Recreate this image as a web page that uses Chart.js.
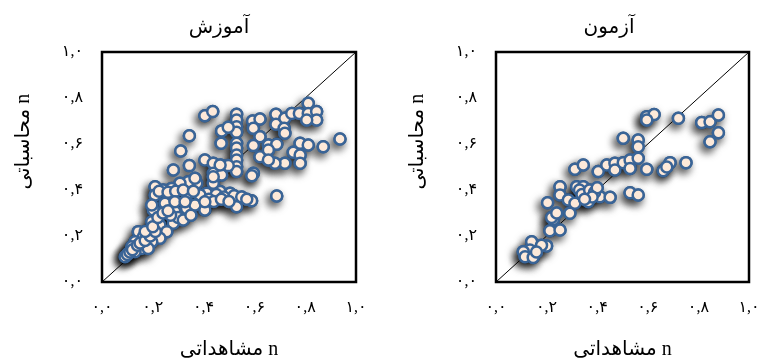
<!DOCTYPE html>
<html>
<head>
<meta charset="utf-8">
<script src="https://cdn.jsdelivr.net/npm/chart.js@4/dist/chart.umd.min.js"></script>
<style>
  html, body { margin: 0; padding: 0; background: #ffffff; overflow: hidden; width: 759px; height: 358px; }
  canvas { position: absolute; top: 0; }
  #cTrain { left: 0px; }
  #cTest { left: 380px; }
</style>
</head>
<body>
<canvas id="cTrain" dir="rtl" width="438" height="358"></canvas>
<canvas id="cTest" dir="rtl" width="458" height="358"></canvas>
<script>
// ---- labels ----
const tickLabels = ['۰,۰', '۰,۲', '۰,۴', '۰,۶', '۰,۸', '۱,۰'];
const trainTitle = 'آموزش';
const testTitle = 'آزمون';
const xAxisTitle = 'n مشاهداتی';
const yAxisTitle = 'n محاسباتی';
const diagonalX = [0, 1];
const diagonalY = [0, 1];

// ---- training data (observed n, computed n) ----
const trainObs = [
  0.405, 0.436, 0.530, 0.530, 0.530, 0.530, 0.530, 0.530, 0.530, 0.530,
  0.530, 0.530, 0.471, 0.497, 0.469, 0.344, 0.310, 0.593, 0.622, 0.596,
  0.622, 0.596, 0.622, 0.655, 0.688, 0.655, 0.685, 0.685, 0.720, 0.717,
  0.720, 0.747, 0.777, 0.812, 0.812, 0.845, 0.845, 0.806, 0.780, 0.812,
  0.871, 0.937, 0.753, 0.780, 0.780, 0.720, 0.681, 0.655, 0.405, 0.438,
  0.471, 0.497, 0.344, 0.281, 0.596, 0.438, 0.471, 0.590, 0.688, 0.589,
  0.530, 0.504, 0.465, 0.438, 0.412, 0.386, 0.373, 0.340, 0.307, 0.274,
  0.241, 0.209, 0.209, 0.340, 0.346, 0.405, 0.287, 0.202, 0.196, 0.255,
  0.438, 0.366, 0.248, 0.333, 0.366, 0.196, 0.228, 0.281, 0.255, 0.228,
  0.196, 0.143, 0.163, 0.130, 0.156, 0.117, 0.104, 0.091, 0.130, 0.182,
  0.225, 0.260, 0.290, 0.320, 0.360, 0.450, 0.480, 0.520, 0.550, 0.570,
  0.420, 0.440, 0.470, 0.500, 0.300, 0.320, 0.350, 0.270, 0.100, 0.110,
  0.120, 0.140, 0.150, 0.170, 0.190, 0.210, 0.170, 0.200, 0.220, 0.240,
  0.260, 0.287, 0.327, 0.405, 0.465, 0.438
];
const trainCalc = [
  0.723, 0.741, 0.729, 0.704, 0.675, 0.651, 0.603, 0.583, 0.552, 0.530,
  0.501, 0.480, 0.657, 0.673, 0.603, 0.636, 0.570, 0.700, 0.709, 0.668,
  0.632, 0.593, 0.545, 0.596, 0.599, 0.574, 0.729, 0.686, 0.712, 0.668,
  0.647, 0.733, 0.733, 0.777, 0.733, 0.741, 0.704, 0.704, 0.603, 0.596,
  0.588, 0.622, 0.564, 0.552, 0.516, 0.516, 0.516, 0.530, 0.530, 0.516,
  0.506, 0.506, 0.506, 0.487, 0.473, 0.473, 0.465, 0.462, 0.374, 0.353,
  0.327, 0.386, 0.393, 0.386, 0.386, 0.378, 0.429, 0.436, 0.429, 0.407,
  0.400, 0.414, 0.378, 0.386, 0.335, 0.313, 0.306, 0.313, 0.335, 0.342,
  0.429, 0.451, 0.342, 0.320, 0.335, 0.262, 0.248, 0.255, 0.219, 0.190,
  0.175, 0.219, 0.197, 0.175, 0.146, 0.153, 0.125, 0.110, 0.132, 0.146,
  0.395, 0.390, 0.395, 0.400, 0.395, 0.380, 0.370, 0.375, 0.370, 0.360,
  0.360, 0.350, 0.360, 0.350, 0.280, 0.270, 0.290, 0.290, 0.120, 0.130,
  0.140, 0.160, 0.170, 0.180, 0.200, 0.220, 0.220, 0.240, 0.280, 0.300,
  0.310, 0.349, 0.349, 0.349, 0.509, 0.458
];

// ---- test data (observed n, computed n) ----
const testObs = [
  0.596, 0.625, 0.596, 0.721, 0.813, 0.846, 0.879, 0.879, 0.846, 0.503,
  0.562, 0.562, 0.312, 0.345, 0.404, 0.438, 0.470, 0.470, 0.503, 0.530,
  0.530, 0.562, 0.596, 0.661, 0.688, 0.675, 0.751, 0.253, 0.253, 0.204,
  0.286, 0.312, 0.319, 0.345, 0.358, 0.365, 0.411, 0.451, 0.530, 0.562,
  0.292, 0.227, 0.213, 0.253, 0.200, 0.167, 0.141, 0.134, 0.108, 0.115,
  0.147, 0.330, 0.340, 0.370, 0.390, 0.400, 0.380, 0.350, 0.180, 0.160,
  0.220, 0.240
];
const testCalc = [
  0.719, 0.728, 0.704, 0.712, 0.693, 0.697, 0.726, 0.649, 0.610, 0.625,
  0.617, 0.588, 0.490, 0.509, 0.480, 0.509, 0.516, 0.487, 0.519, 0.530,
  0.494, 0.538, 0.490, 0.484, 0.519, 0.500, 0.519, 0.414, 0.378, 0.345,
  0.357, 0.342, 0.414, 0.414, 0.386, 0.349, 0.371, 0.368, 0.388, 0.378,
  0.299, 0.272, 0.223, 0.226, 0.157, 0.154, 0.175, 0.139, 0.132, 0.110,
  0.107, 0.400, 0.380, 0.400, 0.390, 0.410, 0.370, 0.360, 0.160, 0.130,
  0.280, 0.300
];

const FONT_FAMILY = "'Liberation Serif', 'DejaVu Sans', serif";
const MARKER_FILL = '#fde9d9';
const MARKER_EDGE = '#3a6496';

function toPoints(xs, ys) { return xs.map((x, i) => ({ x: x, y: ys[i] })); }

const rtlPlugin = {
  id: 'rtlText',
  beforeDraw(chart) { chart.ctx.direction = 'rtl'; }
};

// dataset 1 is a shadow-casting copy of the markers, drawn beneath the clean markers
const shadowPlugin = {
  id: 'markerShadow',
  beforeDatasetDraw(chart, args) {
    if (args.index !== 1) return;
    const ctx = chart.ctx;
    ctx.save();
    ctx.shadowColor = 'rgba(0,0,0,0.75)';
    ctx.shadowBlur = 8;
    ctx.shadowOffsetX = -3;
    ctx.shadowOffsetY = 4;
  },
  afterDatasetDraw(chart, args) {
    if (args.index !== 1) return;
    chart.ctx.restore();
  }
};

const framePlugin = {
  id: 'frame',
  afterDraw(chart) {
    const { ctx, chartArea: a } = chart;
    ctx.save();
    ctx.strokeStyle = '#000000';
    ctx.lineWidth = 2.5;
    ctx.strokeRect(a.left, a.top, a.right - a.left, a.bottom - a.top);
    ctx.restore();
  }
};

// rotated y-axis title, placed like the reference (slightly above the middle of the plot)
const yTitlePlugin = {
  id: 'yTitle',
  afterDraw(chart, args, opts) {
    const { ctx, chartArea: a } = chart;
    ctx.save();
    ctx.direction = 'rtl';
    ctx.font = opts.size + 'px ' + FONT_FAMILY;
    ctx.fillStyle = '#000000';
    ctx.textAlign = 'center';
    ctx.textBaseline = 'middle';
    ctx.translate(opts.x, a.top + (a.bottom - a.top) * opts.frac);
    ctx.rotate(-Math.PI / 2);
    ctx.fillText(opts.text, 0, 0);
    ctx.restore();
  }
};

function markerDataset(xs, ys, order) {
  return {
    data: toPoints(xs, ys),
    pointRadius: 5.5,
    pointHoverRadius: 5.5,
    pointBackgroundColor: MARKER_FILL,
    pointBorderColor: MARKER_EDGE,
    pointBorderWidth: 2.5,
    order: order
  };
}

function makeChart(id, title, xs, ys, yAxisWidth, yTitleX, rightWidth) {
  return new Chart(document.getElementById(id), {
    type: 'scatter',
    data: {
      datasets: [
        markerDataset(xs, ys, 1),
        markerDataset(xs, ys, 2),
        {
          data: toPoints(diagonalX, diagonalY),
          showLine: true,
          borderColor: '#000000',
          borderWidth: 1,
          pointRadius: 0,
          order: 3
        }
      ]
    },
    options: {
      responsive: false,
      animation: false,
      events: [],
      layout: { padding: 0 },
      plugins: {
        legend: { display: false },
        tooltip: { enabled: false },
        title: {
          display: true,
          text: title,
          color: '#000000',
          font: { family: FONT_FAMILY, size: 20, weight: 'normal', lineHeight: 1.2 },
          padding: { top: 16, bottom: 12 }
        },
        yTitle: { text: yAxisTitle, size: 20, x: yTitleX, frac: 0.39 }
      },
      scales: {
        x: {
          type: 'linear',
          min: 0, max: 1,
          grid: { display: false, drawTicks: false },
          border: { display: false },
          ticks: {
            stepSize: 0.2,
            padding: 16,
            color: '#000000',
            font: { family: FONT_FAMILY, size: 16 },
            maxRotation: 0,
            callback: (v) => tickLabels[Math.round(v * 5)]
          },
          title: {
            display: true,
            text: xAxisTitle,
            color: '#000000',
            font: { family: FONT_FAMILY, size: 20, lineHeight: 0.8 },
            padding: { top: 0, bottom: 0 }
          },
          afterFit(scale) { scale.height = 76; }
        },
        y: {
          type: 'linear',
          position: 'left',
          min: 0, max: 1,
          grid: { display: false, drawTicks: false },
          border: { display: false },
          ticks: {
            stepSize: 0.2,
            padding: 19,
            color: '#000000',
            font: { family: FONT_FAMILY, size: 16 },
            callback: (v) => tickLabels[Math.round(v * 5)]
          },
          afterFit(scale) { scale.width = yAxisWidth; }
        },
        yRight: {
          type: 'linear',
          position: 'right',
          min: 0, max: 1,
          grid: { display: false, drawTicks: false },
          border: { display: false },
          ticks: { display: false },
          afterFit(scale) { scale.width = rightWidth; }
        }
      }
    },
    plugins: [rtlPlugin, shadowPlugin, framePlugin, yTitlePlugin]
  });
}

makeChart('cTrain', trainTitle, trainObs, trainCalc, 102, 24, 82);
makeChart('cTest', testTitle, testObs, testCalc, 116, 38, 89);
</script>
</body>
</html>
